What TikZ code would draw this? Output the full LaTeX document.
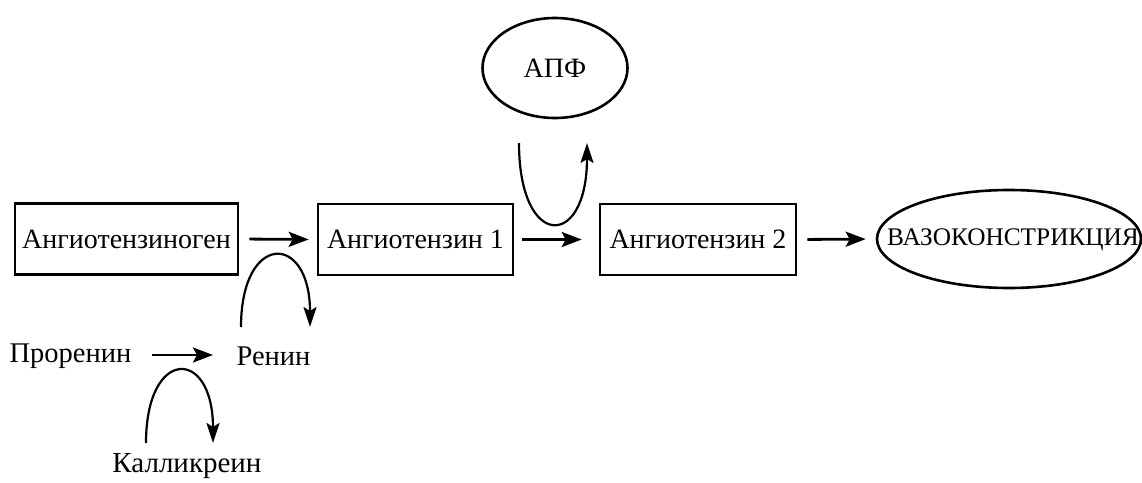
\documentclass[tikz,border=0pt]{standalone}
\usepackage{fontspec}
\setmainfont{Liberation Serif}
\usetikzlibrary{arrows.meta,shapes.geometric}
\begin{document}
\begin{tikzpicture}[x=1pt,y=-1pt,
  every node/.style={font=\fontsize{28}{32}\selectfont, inner sep=0pt},
  box/.style={draw, line width=2.6pt, minimum height=71pt},
  oval/.style={draw, ellipse, line width=2.6pt},
  arr/.style={line width=2.8pt, -{Stealth[length=20pt,width=15pt,inset=4pt]}},
  carr/.style={line width=2.2pt, -{Stealth[length=20pt,width=13pt,inset=4pt]}},
  lbl/.style={}
]
\useasboundingbox (0,0) rectangle (1142,482);
\node[box, minimum width=223pt] (b1) at (126.5,239) {Ангиотензиноген};
\node[box, minimum width=195pt] (b2) at (415.5,239.5) {Ангиотензин 1};
\node[box, minimum width=196pt] (b3) at (698,239.5) {Ангиотензин 2};
\node[oval, minimum width=264pt, minimum height=98pt] (vaso) at (1009,239) {};
\node[font=\fontsize{25.3}{30}\selectfont] (vasot) at (1013,240) {ВАЗОКОНСТРИКЦИЯ};
\node[oval, minimum width=145pt, minimum height=100pt] (apf) at (555,68) {АПФ};
\node[lbl, font=\fontsize{28.5}{32}\selectfont] (pro) at (70.5,356) {Проренин};
\node[lbl, font=\fontsize{28.5}{32}\selectfont] (ren) at (273.5,356) {Ренин};
\node[lbl, font=\fontsize{29}{32}\selectfont] (kal) at (187,466) {Калликреин};
\draw[arr, shorten <=10pt, shorten >=8pt] (b1.east) -- (b2.west);
\draw[arr, shorten <=8pt, shorten >=17pt] (b2.east) -- (b3.west);
\draw[arr, shorten <=10pt, shorten >=10pt] (b3.east) -- (vaso.west);
\draw[arr] (152,355) coordinate (p1) -- (213,355) coordinate (p2);
\coordinate (c1s) at (241,327); \coordinate (c1e) at (310,327);
\draw[carr] (c1s) .. controls (241,232) and (310,232) .. (c1e);
\coordinate (c2s) at (519,143); \coordinate (c2e) at (587,143);
\draw[carr] (c2s) .. controls (519,250) and (587,250) .. (c2e);
\coordinate (c3s) at (146,443); \coordinate (c3e) at (213,443);
\draw[carr] (c3s) .. controls (146,347) and (213,347) .. (c3e);
\end{tikzpicture}
\end{document}
